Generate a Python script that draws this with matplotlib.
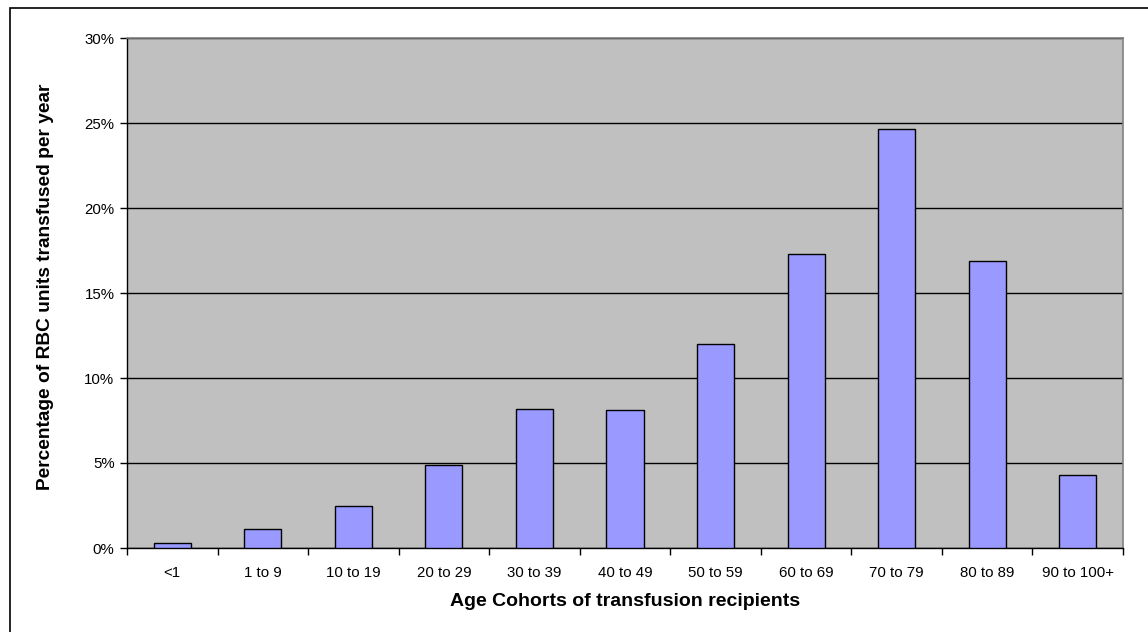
import matplotlib
matplotlib.use("Agg")
import matplotlib.pyplot as plt
from matplotlib.patches import Rectangle
from matplotlib.ticker import FuncFormatter, MultipleLocator

plt.rcParams['font.family'] = ['Liberation Sans', 'DejaVu Sans']

# Share of red blood cell units transfused per year, by recipient age cohort (%)
cohorts = ["<1", "1 to 9", "10 to 19", "20 to 29", "30 to 39", "40 to 49",
           "50 to 59", "60 to 69", "70 to 79", "80 to 89", "90 to 100+"]
share_pct = [0.31, 1.1, 2.49, 4.86, 8.19, 8.10, 11.98, 17.28, 24.63, 16.88, 4.31]

fig = plt.figure(figsize=(11.48, 6.32), dpi=100)
fig.patch.set_facecolor("white")

# chart frame
fig.patches.append(Rectangle((9.5 / 1148, -0.05), 1.2, (632 - 7.5) / 632 + 0.05,
                             transform=fig.transFigure, fill=False,
                             edgecolor="black", linewidth=1.2, zorder=0))

ax = fig.add_axes([127 / 1148, (632 - 548) / 632, (1123 - 127) / 1148, (548 - 38) / 632])
ax.set_facecolor("#C0C0C0")

x = list(range(len(cohorts)))
ax.bar(x, share_pct, width=0.41, color="#9999FF", edgecolor="black",
       linewidth=1.0, zorder=3)

ax.set_xlim(-0.5, len(cohorts) - 0.5)
ax.set_ylim(0, 30)
ax.yaxis.set_major_locator(MultipleLocator(5))
ax.yaxis.set_major_formatter(FuncFormatter(lambda v, p: f"{v:.0f}%"))
ax.grid(axis="y", color="black", linewidth=1.0, zorder=1)
ax.set_axisbelow(True)

ax.set_xticks(x)
ax.set_xticklabels(cohorts, fontsize=10.8)
ax.set_xticks([i + 0.5 for i in range(-1, len(cohorts))], minor=True)
ax.tick_params(axis="x", which="major", length=0, pad=13)
ax.tick_params(axis="x", which="minor", length=5, width=1, color="black", direction="out")
ax.tick_params(axis="y", length=5, width=1, color="black", labelsize=10.8, pad=4)

for side in ("left", "bottom"):
    ax.spines[side].set_color("black")
    ax.spines[side].set_linewidth(1.0)
for side in ("top", "right"):
    ax.spines[side].set_color("#808080")
    ax.spines[side].set_linewidth(1.2)

ax.set_xlabel("Age Cohorts of transfusion recipients", fontsize=14,
              fontweight="bold", labelpad=9)
ax.set_ylabel("Percentage of RBC units transfused per year", fontsize=13.8,
              fontweight="bold")
ax.yaxis.set_label_coords(-0.073, 0.512)

fig.savefig("out.png", dpi=100)
